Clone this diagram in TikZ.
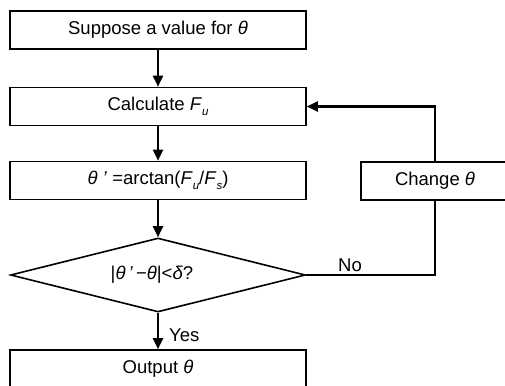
\documentclass[tikz,border=0pt]{standalone}
\usepackage{fontspec}
\setmainfont{Liberation Sans}
\usetikzlibrary{shapes.geometric,arrows.meta}
\newcommand\mysub[1]{\raisebox{-0.3em}{\fontsize{11.5}{11.5}\selectfont\itshape #1}}
\newcommand\thet{\textit{θ}}
\begin{document}
\begin{tikzpicture}[x=1pt,y=-1pt,
  box/.style={draw,line width=1.6pt,rectangle,inner sep=0pt,minimum width=296pt,minimum height=38pt,
    font=\fontsize{18.5}{21}\selectfont},
  arr/.style={line width=2.2pt,-{Triangle[length=11pt,width=10pt]}},
  ln/.style={line width=1.7pt},
  lbl/.style={font=\fontsize{18.5}{21}\selectfont,inner sep=2pt}]
\useasboundingbox (0,0) rectangle (505,385);
\node[box] (b1) at (158,30) {Suppose a value for \thet\hspace{12pt}};
\node[box] (b2) at (158,106.5) {Calculate \textit{F}\mysub{u}\hspace{22pt}};
\node[box] (b3) at (158,180.5) {\thet\textit{ '} =arctan(\textit{F}\mysub{u}/\textit{F}\mysub{s})\hspace{6pt}};
\node[draw,line width=1.6pt,diamond,inner sep=0pt,minimum width=295pt,minimum height=74pt] (d) at (158,275) {};
\node[lbl] (dt) at (152,275) {|\thet\,\textit{'}\,−\thet|<\textit{δ}?};
\node[box] (out) at (158,369) {Output \thet};
\node[box,minimum width=148pt] (ch) at (435,181) {Change \thet};
\draw[arr] (b1) -- (b2);
\draw[arr] (b2) -- (b3);
\draw[arr] (b3) -- (d.north);
\draw[arr] (d.south) -- node[lbl,right,pos=0.62,xshift=8pt] {Yes} (out);
\draw[ln] (d.east) -| node[lbl,above,pos=0.17] {No} (ch.south);
\draw[arr] (ch.north) |- (b2.east);
\end{tikzpicture}
\end{document}
